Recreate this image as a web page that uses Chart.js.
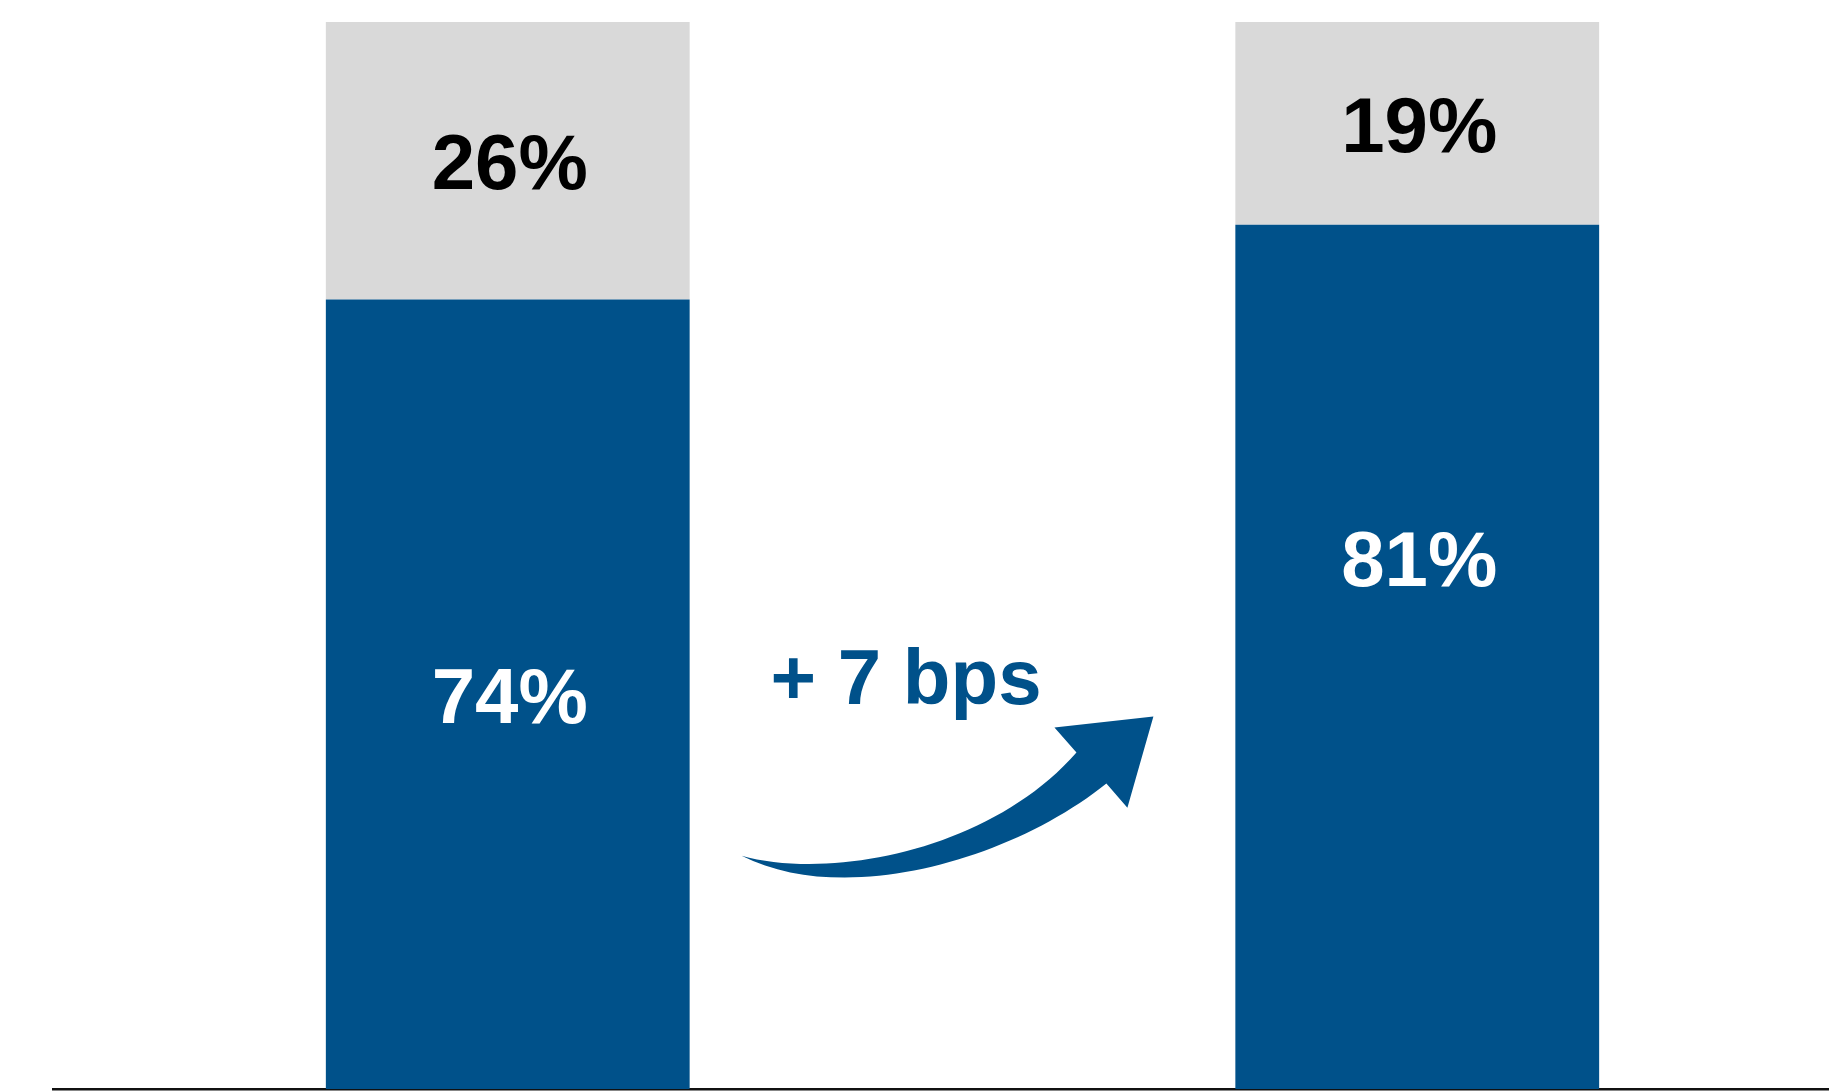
<!DOCTYPE html>
<html>
<head>
<meta charset="utf-8">
<style>
  html, body { margin: 0; padding: 0; background: #ffffff; overflow: hidden; }
  #wrap { width: 1900px; height: 1092px; }
  .preload { font-family: "Liberation Sans"; font-weight: bold; position: absolute; left: -9999px; top: 0; }
</style>
<script src="https://cdn.jsdelivr.net/npm/chart.js@4/dist/chart.umd.min.js"></script>
</head>
<body>
<div class="preload">+ 7 bps 0123456789%</div>
<div id="wrap"><canvas id="chart" width="1900" height="1092"></canvas></div>
<script>
// Two periods, each split into a blue share and the grey remainder (percent)
const categories = ['Before', 'After'];
const blueShare = [74, 81];
const greyShare = [26, 19];
const changeLabel = '+ 7 bps';

const BLUE = '#00518a';
const GREY = '#d9d9d9';
const FONT = '"Liberation Sans", Arial, Helvetica, sans-serif';

// Writes each segment's value inside its bar segment
const segmentLabels = {
  id: 'segmentLabels',
  afterDatasetsDraw(chart) {
    const { ctx } = chart;
    ctx.save();
    ctx.font = 'bold 78px ' + FONT;
    ctx.textAlign = 'center';
    ctx.textBaseline = 'middle';
    chart.data.datasets.forEach((ds, di) => {
      const meta = chart.getDatasetMeta(di);
      meta.data.forEach((bar, i) => {
        const v = ds.data[i];
        const top = Math.min(bar.y, bar.base);
        const bottom = Math.max(bar.y, bar.base);
        let y = (top + bottom) / 2;
        // the later period's blue label sits a little higher in its segment
        if (di === 0 && i === 1) y -= (bottom - top) * 0.115;
        ctx.fillStyle = ds.labelColor;
        ctx.fillText(v + '%', bar.x + 2, y + 7);
      });
    });
    ctx.restore();
  }
};

// Curved arrow between the two bars with the change annotation above it
const changeArrow = {
  id: 'changeArrow',
  afterDatasetsDraw(chart) {
    const { ctx } = chart;
    const xs = chart.scales.x, ys = chart.scales.y;
    const P = (u, v) => [xs.getPixelForValue(u), ys.getPixelForValue(v)];
    const tail = P(0.2571, 21.87);
    const up1 = P(0.3549, 19.52), up2 = P(0.5308, 22.34), upEnd = P(0.6253, 31.53);
    const notch = P(0.6011, 33.88), tip = P(0.7099, 34.91), headLow = P(0.6813, 26.37);
    const lowEnd = P(0.6582, 28.62);
    const lp1 = P(0.5527, 21.40), lp2 = P(0.3700, 17.00);
    ctx.save();
    ctx.fillStyle = BLUE;
    ctx.beginPath();
    ctx.moveTo(...tail);
    ctx.bezierCurveTo(...up1, ...up2, ...upEnd);
    ctx.lineTo(...notch);
    ctx.lineTo(...tip);
    ctx.lineTo(...headLow);
    ctx.lineTo(...lowEnd);
    ctx.bezierCurveTo(...lp1, ...lp2, ...tail);
    ctx.closePath();
    ctx.fill();

    const t = P(0.289, 36.04);
    ctx.font = 'bold 78px ' + FONT;
    ctx.textAlign = 'left';
    ctx.textBaseline = 'alphabetic';
    ctx.fillText(changeLabel, t[0], t[1]);
    ctx.restore();
  }
};

function build() {
  new Chart(document.getElementById('chart'), {
    type: 'bar',
    data: {
      labels: categories,
      datasets: [
        { label: 'Share', data: blueShare, backgroundColor: BLUE, labelColor: '#ffffff',
          categoryPercentage: 1, barPercentage: 0.4, borderWidth: 0 },
        { label: 'Remainder', data: greyShare, backgroundColor: GREY, labelColor: '#000000',
          categoryPercentage: 1, barPercentage: 0.4, borderWidth: 0 }
      ]
    },
    options: {
      responsive: false,
      animation: false,
      events: [],
      layout: { padding: { left: 53, right: 28, top: 22, bottom: 3 } },
      plugins: { legend: { display: false }, tooltip: { enabled: false } },
      scales: {
        x: {
          stacked: true,
          grid: { display: false, drawTicks: false },
          ticks: { display: false },
          border: { display: true, color: '#111111', width: 2.5 }
        },
        y: {
          stacked: true,
          display: false,
          min: 0,
          max: 100
        }
      }
    },
    plugins: [segmentLabels, changeArrow]
  });
}

if (document.fonts && document.fonts.load) {
  document.fonts.load('bold 78px "Liberation Sans"').then(build, build);
} else {
  build();
}
</script>
</body>
</html>
